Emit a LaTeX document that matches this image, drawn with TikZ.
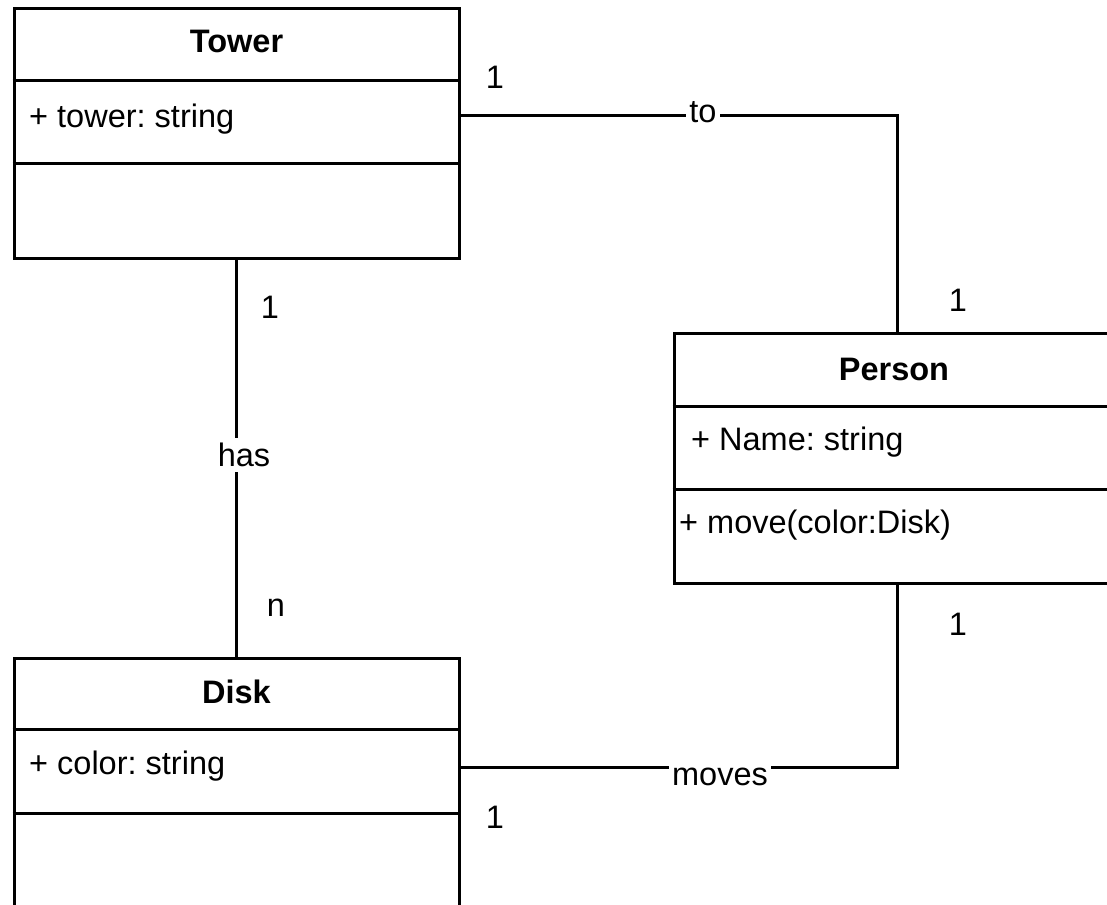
\documentclass[tikz,border=0pt]{standalone}
\usepackage{fontspec}
\setmainfont{Liberation Sans}
\frenchspacing
\begin{document}
\begin{tikzpicture}[x=1pt,y=-1pt,
  classbox/.style={draw, line width=3pt, inner sep=0pt, fill=white},
  txt/.style={font=\fontsize{32.5}{39}\selectfont\frenchspacing, inner sep=0pt},
  ttl/.style={inner sep=0pt, font=\fontsize{32.5}{39}\selectfont\bfseries},
  attr/.style={txt, anchor=west},
  lbl/.style={txt, fill=white, inner xsep=3pt, inner ysep=5pt},
  mult/.style={txt},
  conn/.style={line width=3pt}]
\useasboundingbox (0,0) rectangle (1107,904);
\clip (0,0) rectangle (1107,904);
\fill[white] (0,0) rectangle (1107,904);

% class boxes
\node[classbox, minimum width=445pt, minimum height=249pt] (tower) at (236.5,133.5) {};
\node[classbox, minimum width=446pt, minimum height=250pt] (person) at (897,458) {};
\node[classbox, minimum width=445pt, minimum height=249pt] (disk) at (236.5,782.5) {};

% compartment dividers
\draw[conn] (tower.west |- 0,81) -- (tower.east |- 0,81);
\draw[conn] (tower.west |- 0,164) -- (tower.east |- 0,164);
\draw[conn] (person.west |- 0,406) -- (person.east |- 0,406);
\draw[conn] (person.west |- 0,489) -- (person.east |- 0,489);
\draw[conn] (disk.west |- 0,729) -- (disk.east |- 0,729);
\draw[conn] (disk.west |- 0,813) -- (disk.east |- 0,813);

% class texts
\node[ttl] (towerT) at (236.5,41) {Tower};
\node[attr] (towerA) at (29,119) {+ tower: string};
\node[ttl] (personT) at (894,369) {Person};
\node[attr] (personA) at (691,442) {+ Name: string};
\node[attr] (personM) at (679,525) {+ move(color:Disk)};
\node[ttl] (diskT) at (236.5,692) {Disk};
\node[attr] (diskA) at (29,766) {+ color: string};

% connectors
\draw[conn] (tower.south) -- (disk.north);
\draw[conn] (tower.east |- 0,116) -| (person.north);
\draw[conn] (disk.east |- 0,767) -| (person.south);

% connector labels
\node[lbl] (has) at (244,455) {has};
\node[lbl] (to) at (703,112) {to};
\node[lbl] (moves) at (720,777) {moves};

% multiplicities
\node[mult] (m1) at (495,77) {1};
\node[mult] (m2) at (958,300) {1};
\node[mult] (m3) at (270,307) {1};
\node[mult] (m4) at (276,608) {n};
\node[mult] (m5) at (958,624) {1};
\node[mult] (m6) at (495,817) {1};
\end{tikzpicture}
\end{document}
